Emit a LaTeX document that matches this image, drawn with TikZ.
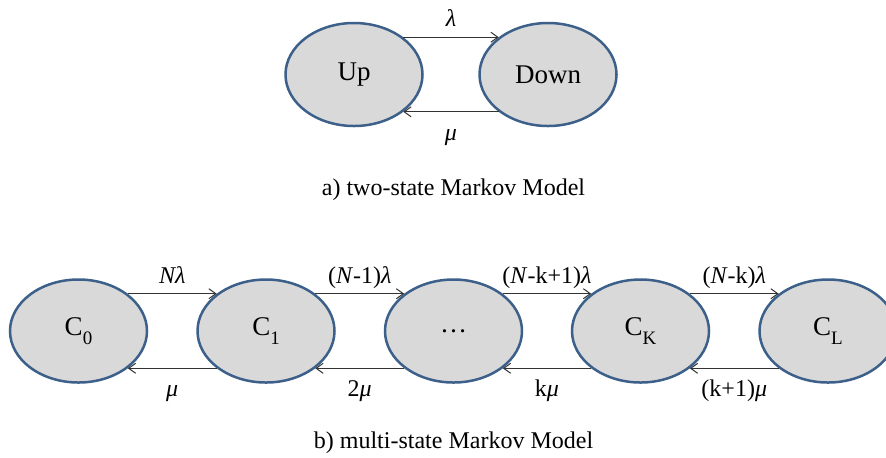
\documentclass[tikz,border=0pt]{standalone}
\usepackage{fontspec}
\setmainfont{Liberation Serif}
\usetikzlibrary{arrows.meta,shapes.geometric}

\definecolor{stateblue}{RGB}{60,96,138}
\definecolor{stategray}{RGB}{217,217,217}
\newcommand{\statesub}[1]{\raisebox{-0.32em}{\fontsize{9.5}{10}\selectfont #1}}

\begin{document}
\begin{tikzpicture}[x=0.5pt,y=-0.5pt,
  state/.style={ellipse, draw=stateblue, line width=1.25pt, fill=stategray,
    minimum width=68.5pt, minimum height=51.5pt, inner sep=0pt,
    font=\fontsize{13.5}{15}\selectfont},
  rate/.style={font=\fontsize{12}{14}\selectfont, inner sep=1pt,
    text height=9pt, text depth=3pt},
  trans/.style={-{Straight Barb[length=3.5pt,width=5pt]}, draw=black!80, line width=0.5pt},
  caption/.style={font=\fontsize{12}{14}\selectfont}]
  \clip (0,0) rectangle (886,457);
  % a) two-state model
  \node[state] (up) at (354,74.5) {Up};
  \node[state] (down) at (548,74.5) {Down};
  \draw[trans] (up.north east) -- node[rate, above=1pt] {\textit{λ}} (down.north west);
  \draw[trans] (down.south west) -- node[rate, below=4pt] {\textit{μ}} (up.south east);
  \node[caption] (capa) at (453.5,189.5) {a) two-state Markov Model};
  % b) multi-state model, states C_0 ... C_L
  \foreach \n/\x/\t in {c0/78.5/C\statesub{0}, c1/266/C\statesub{1}, dots/453.5/\ldots,
      ck/640.5/C\statesub{K}, cl/828/C\statesub{L}}
    \node[state] (\n) at (\x,331) {\t};
  % rates: forward on top, backward below
  \foreach \a/\b/\fw/\bw in {c0/c1/{\textit{Nλ}}/{\textit{μ}},
      c1/dots/{(\textit{N}-1)\textit{λ}}/{2\textit{μ}},
      dots/ck/{(\textit{N}-k+1)\textit{λ}}/{k\textit{μ}},
      ck/cl/{(\textit{N}-k)\textit{λ}}/{(k+1)\textit{μ}}} {
    \draw[trans] (\a.north east) -- node[rate, above=1pt] {\fw} (\b.north west);
    \draw[trans] (\b.south west) -- node[rate, below=4pt] {\bw} (\a.south east);
  }
  \node[caption] (capb) at (453.5,443) {b) multi-state Markov Model};
\end{tikzpicture}
\end{document}
